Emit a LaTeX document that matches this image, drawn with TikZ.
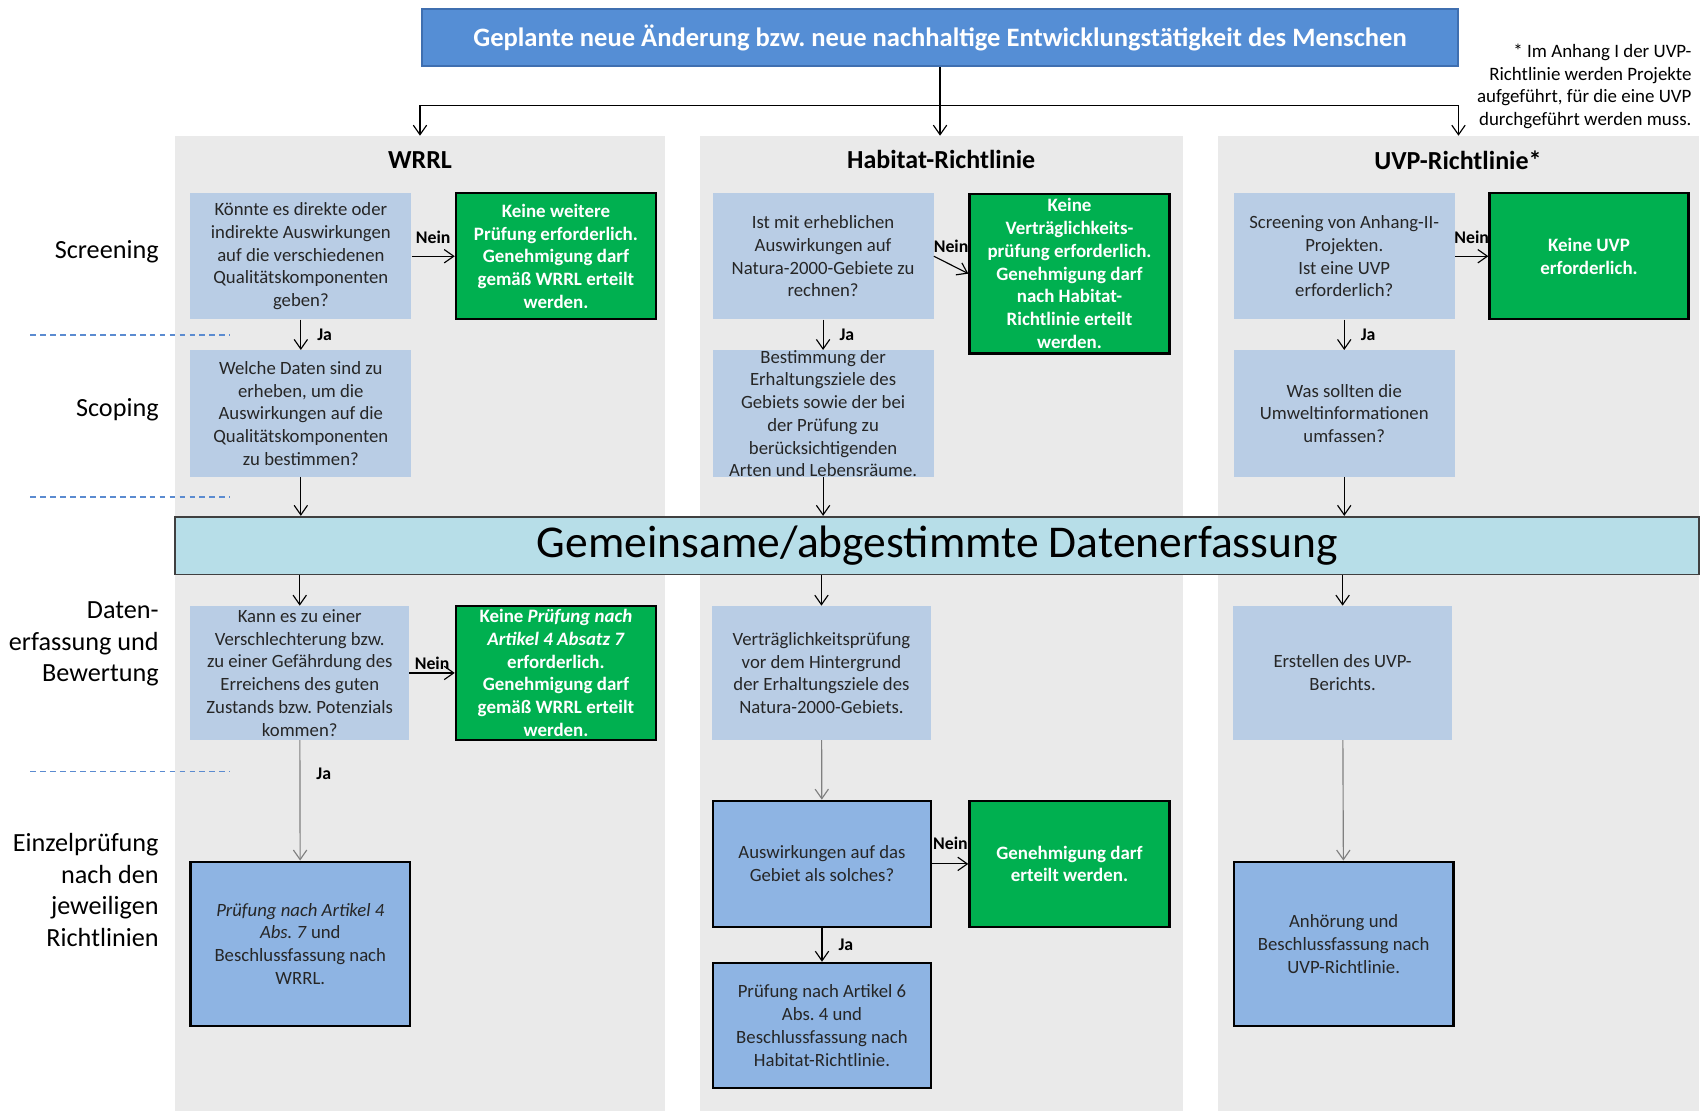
\documentclass[tikz,border=0pt]{standalone}
\usepackage{fontspec}
\setmainfont{Carlito}
\usepackage{tikz}
\usetikzlibrary{arrows.meta,positioning,calc}
\definecolor{headblue}{HTML}{558ED5}
\definecolor{headline}{HTML}{3F6FB0}
\definecolor{lanegray}{HTML}{EAEAEA}
\definecolor{paleblue}{HTML}{B9CDE5}
\definecolor{midblue}{HTML}{8EB4E3}
\definecolor{okgreen}{HTML}{00B050}
\definecolor{barblue}{HTML}{B7DEE8}
\definecolor{dashblue}{HTML}{5B8BD0}
\definecolor{arrowgray}{HTML}{808080}
\definecolor{inkgray}{HTML}{262626}
\frenchspacing

\begin{document}
\begin{tikzpicture}[x=0.02cm, y=-0.02cm,
    headbox/.style={draw=headline, line width=1pt, fill=headblue, minimum width=19.06cm, minimum height=1.06cm, text=white, font=\bfseries\fontsize{13.9}{16}\selectfont},
    lane/.style={fill=lanegray, minimum height=17.92cm, inner sep=0pt},
    lanetitle/.style={font=\bfseries\fontsize{13.6}{15}\selectfont},
    phase/.style={anchor=east, align=right, font=\fontsize{13.7}{16.5}\selectfont},
    question/.style={fill=paleblue, minimum width=4.06cm, minimum height=2.32cm, inner sep=0pt, align=center, text=inkgray, font=\fontsize{9.8}{11.9}\selectfont},
    verdict/.style={draw=black, line width=1.2pt, fill=okgreen, minimum width=3.68cm, minimum height=2.32cm, inner sep=0pt, align=center, text=white, font=\bfseries\fontsize{9.9}{11.9}\selectfont},
    decision/.style={draw=black, line width=1.2pt, fill=midblue, minimum width=4.04cm, minimum height=3.02cm, inner sep=0pt, align=center, text=inkgray, font=\fontsize{9.8}{11.9}\selectfont},
    databar/.style={draw=black!75, line width=1pt, fill=barblue, minimum width=28.02cm, minimum height=1.06cm, font=\fontsize{23.8}{26}\selectfont},
    tag/.style={font=\bfseries\fontsize{9.3}{10}\selectfont},
    arrow/.style={-{Straight Barb[length=5pt, width=7pt]}, line width=0.6pt},
    greyarrow/.style={arrow, color=arrowgray},
    phaseline/.style={draw=dashblue, line width=0.8pt, dash pattern=on 3pt off 2.2pt}
]
\useasboundingbox (0,0) rectangle (1568,1021);

\node[lane, minimum width=9cm] (col1) at (386, 573) {};
\node[lane, minimum width=8.88cm] (col2) at (865, 573) {};
\node[lane, minimum width=8.86cm] (col3) at (1340.5, 573) {};

\node[headbox] (top) at (864, 34.5) {Geplante neue Änderung bzw. neue nachhaltige Entwicklungstätigkeit des Menschen};
\node[anchor=north east, align=right, inner sep=0pt, font=\fontsize{9.9}{11.9}\selectfont] (note) at (1555, 40) {* Im Anhang I der UVP-\\Richtlinie werden Projekte\\aufgeführt, für die eine UVP\\durchgeführt werden muss.};
\coordinate (split) at (864, 97);

\node[lanetitle] (t1) at (386, 147) {WRRL};
\node[lanetitle] (t2) at (865, 147) {Habitat-Richtlinie};
\node[lanetitle] (t3) at (1340, 147) {UVP-Richtlinie*};

\node[phase] (p1) at (152, 231) {Screening};
\node[phase] (p2) at (152, 377) {Scoping};
\node[phase] (p3) at (152, 592) {Daten-\\erfassung und\\Bewertung};
\node[phase] (p4) at (152, 818) {Einzelprüfung\\nach den\\jeweiligen\\Richtlinien};

\draw[phaseline] (28, 308) -- (211, 308);
\draw[phaseline] (28, 457) -- (211, 457);
\draw[phaseline] (28, 709) -- (211, 709);

\node[question] (q1) at (276.5, 235.5) {Könnte es direkte oder\\indirekte Auswirkungen\\auf die verschiedenen\\Qualitätskomponenten\\geben?};
\node[verdict] (g1) at (511, 235.5) {Keine weitere\\Prüfung erforderlich.\\Genehmigung darf\\gemäß WRRL erteilt\\werden.};
\node[question] (s1) at (276.5, 380) {Welche Daten sind zu\\erheben, um die\\Auswirkungen auf die\\Qualitätskomponenten\\zu bestimmen?};
\node[question, minimum width=4.02cm, minimum height=2.46cm, inner ysep=-2pt] (d1) at (275.5, 618.5) {Kann es zu einer\\Verschlechterung bzw.\\zu einer Gefährdung des\\Erreichens des guten\\Zustands bzw. Potenzials\\kommen?};
\node[verdict, minimum height=2.46cm, inner ysep=-2pt] (g2) at (511, 618.5) {Keine \textit{Prüfung nach}\\\textit{Artikel 4 Absatz 7}\\erforderlich.\\Genehmigung darf\\gemäß WRRL erteilt\\werden.};
\node[decision] (e1) at (276, 867.5) {\textit{Prüfung nach Artikel 4}\\\textit{Abs. 7} und\\Beschlussfassung nach\\WRRL.};

\node[question] (q2) at (756.5, 235.5) {Ist mit erheblichen\\Auswirkungen auf\\Natura-2000-Gebiete zu\\rechnen?};
\node[verdict, minimum height=2.94cm, inner ysep=-2pt] (g3) at (983, 251.5) {Keine\\Verträglichkeits-\\prüfung erforderlich.\\Genehmigung darf\\nach Habitat-\\Richtlinie erteilt\\werden.};
\node[question, inner ysep=-4pt] (s2) at (756.5, 380) {Bestimmung der\\Erhaltungsziele des\\Gebiets sowie der bei\\der Prüfung zu\\berücksichtigenden\\Arten und Lebensräume.};
\node[question, minimum width=4.04cm, minimum height=2.46cm] (d2) at (755, 618.5) {Verträglichkeitsprüfung\\vor dem Hintergrund\\der Erhaltungsziele des\\Natura-2000-Gebiets.};
\node[decision, minimum width=4.02cm, minimum height=2.32cm] (e2) at (755.5, 794) {Auswirkungen auf das\\Gebiet als solches?};
\node[verdict] (g4) at (983, 794) {Genehmigung darf\\erteilt werden.};
\node[decision, minimum width=4.02cm, minimum height=2.3cm] (f2) at (755.5, 942.5) {Prüfung nach Artikel 6\\Abs. 4 und\\Beschlussfassung nach\\Habitat-Richtlinie.};

\node[question] (q3) at (1235.5, 235.5) {Screening von Anhang-II-\\Projekten.\\Ist eine UVP\\erforderlich?};
\node[verdict, minimum width=3.66cm] (g5) at (1460.5, 235.5) {Keine UVP\\erforderlich.};
\node[question] (s3) at (1235.5, 380) {Was sollten die\\Umweltinformationen\\umfassen?};
\node[question, minimum width=4.04cm, minimum height=2.46cm] (d3) at (1234, 618.5) {Erstellen des UVP-\\Berichts.};
\node[decision] (e3) at (1235, 867.5) {Anhörung und\\Beschlussfassung nach\\UVP-Richtlinie.};

\node[databar] (bar) at (861.5, 501.5) {Gemeinsame/abgestimmte Datenerfassung};

\draw[line width=0.6pt] (top) -- (split);
\draw[arrow] (split) -| (col1.north);
\draw[arrow] (split) -- (split |- col2.north);
\draw[arrow] (split) -| (col3.north);

\draw[arrow] (q1) -- node[above=3pt, tag] {Nein} (g1);
\draw[arrow] (q1) -- node[right=5pt, tag] {Ja} (s1);
\draw[arrow] (s1) -- (s1 |- bar.north);
\draw[arrow] (bar.south -| d1) -- (d1);
\draw[arrow] (d1) -- node[above=-2pt, tag] {Nein} (g2);
\draw[greyarrow] (d1) -- node[right=5pt, pos=0.28, tag, text=black] {Ja} (e1);

\draw[arrow] (q2.east) -- node[above=3pt, tag] {Nein} (g3.west);
\draw[arrow] (q2) -- node[right=5pt, tag] {Ja} (s2);
\draw[arrow] (s2) -- (s2 |- bar.north);
\draw[arrow] (bar.south -| d2) -- (d2);
\draw[greyarrow] (d2) -- (e2);
\draw[arrow] (e2) -- node[above=4pt, tag] {Nein} (g4);
\draw[arrow] (e2) -- node[right=5pt, tag] {Ja} (f2);

\draw[arrow] (q3) -- node[above=3pt, tag] {Nein} (g5);
\draw[arrow] (q3) -- node[right=5pt, tag] {Ja} (s3);
\draw[arrow] (s3) -- (s3 |- bar.north);
\draw[arrow] (bar.south -| d3) -- (d3);
\draw[greyarrow] (d3) -- (e3);

\end{tikzpicture}
\end{document}
